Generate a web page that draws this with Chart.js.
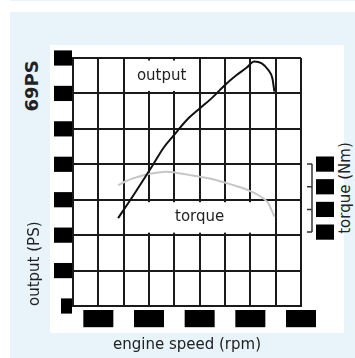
<!DOCTYPE html>
<html>
<head>
<meta charset="utf-8">
<script src="https://cdn.jsdelivr.net/npm/chart.js@4.4.1/dist/chart.umd.min.js"></script>
<style>
  body { margin: 0; background: #fff; width: 355px; height: 358px; overflow: hidden; position: relative; font-family: "DejaVu Sans", sans-serif; color: #222; }
  .band { position: absolute; left: 10px; right: 0; background: #e8f3fa; }
  #panel { position: absolute; left: 50px; top: 45px; width: 294px; height: 288px; background: #fff; }
  #c { position: absolute; left: 0; top: 0; }
  .vlabel { position: absolute; white-space: nowrap; line-height: 1; transform: translate(-50%, -50%) rotate(-90deg); }
</style>
</head>
<body>
<div class="band" style="top:0;height:1px"></div>
<div class="band" style="top:12px;bottom:0"></div>
<div id="panel"></div>
<div class="vlabel" style="left:32px;top:86px;font-weight:bold;font-size:18px">69PS</div>
<div class="vlabel" style="left:345px;top:188px;font-size:15px">torque (Nm)</div>
<canvas id="c" width="355" height="358"></canvas>
<script>
// engine speed grid / labels (rpm)
const rpmGrid = [0, 1000, 2000, 3000, 4000, 5000, 6000, 7000, 8000, 9000];
const rpmLabels = [1000, 3000, 5000, 7000, 9000];
const torqueTicks = [40, 50, 60, 70];

// output curve (PS)
const rpmOutput = [1780, 2380, 3170, 3570, 3960, 4490, 5010, 5540, 6000, 6460, 6860, 7150, 7450, 7710, 7870, 7950];
const outputPS = [24.8, 31.2, 40.0, 44.6, 48.0, 52.5, 55.8, 59.1, 62.4, 65.2, 67.3, 69.0, 68.5, 66.6, 64.3, 60.5];

// torque curve (Nm)
const rpmTorque = [1780, 2040, 2370, 2780, 3300, 3700, 4230, 5010, 5670, 6330, 6990, 7510, 7710, 7840, 7950];
const torqueNm = [60.7, 62.2, 63.7, 65.1, 66.2, 66.6, 65.9, 64.4, 62.9, 60.7, 58.1, 54.9, 52.7, 49.7, 46.8];

const gridColor = "#1a1a1a";
const tickFont = { family: "DejaVu Sans", size: 11 };
const titleFont = { family: "DejaVu Sans", size: 15 };

// white boxes with the curve names, given in data units
const curveLabels = [
  { text: "output", x0: 2000, x1: 5000, y0: 60, y1: 70 },
  { text: "torque", x0: 2000, x1: 8000, y0: 20, y1: 30 },
];

const labelBoxes = {
  id: "labelBoxes",
  beforeDatasetsDraw(chart) {
    const { ctx, scales: { x, y } } = chart;
    ctx.save();
    curveLabels.forEach((l) => {
      const left = x.getPixelForValue(l.x0) + 1.5;
      const right = x.getPixelForValue(l.x1) - 1.5;
      const top = y.getPixelForValue(l.y1) + 2.5;
      const bottom = y.getPixelForValue(l.y0) - 2.5;
      ctx.fillStyle = "#fff";
      ctx.fillRect(left, top, right - left, bottom - top);
      ctx.fillStyle = "#222";
      ctx.font = "15px 'DejaVu Sans'";
      ctx.textAlign = "center";
      ctx.textBaseline = "middle";
      ctx.fillText(l.text, (left + right) / 2, (top + bottom) / 2);
    });
    ctx.restore();
  },
};

// bracket joining the torque ticks
const torqueBracket = {
  id: "torqueBracket",
  afterDraw(chart) {
    const { ctx, chartArea } = chart;
    const s = chart.scales.y1;
    const bx = chartArea.right + 11;
    const ys = torqueTicks.map((v) => s.getPixelForValue(v));
    ctx.save();
    ctx.strokeStyle = "#333";
    ctx.lineWidth = 1.5;
    ctx.beginPath();
    ctx.moveTo(bx, Math.min(...ys));
    ctx.lineTo(bx, Math.max(...ys));
    ys.forEach((py) => {
      ctx.moveTo(bx - 5, py);
      ctx.lineTo(bx, py);
    });
    ctx.stroke();
    ctx.restore();
  },
};

new Chart(document.getElementById("c"), {
  type: "line",
  data: {
    datasets: [
      {
        label: "output",
        data: rpmOutput.map((r, i) => ({ x: r, y: outputPS[i] })),
        borderColor: "#111",
        borderWidth: 2,
        pointRadius: 0,
        cubicInterpolationMode: "monotone",
        yAxisID: "y",
      },
      {
        label: "torque",
        data: rpmTorque.map((r, i) => ({ x: r, y: torqueNm[i] })),
        borderColor: "#c6c6c6",
        borderWidth: 2,
        pointRadius: 0,
        cubicInterpolationMode: "monotone",
        yAxisID: "y1",
      },
    ],
  },
  options: {
    responsive: false,
    animation: false,
    layout: { padding: { top: 58, right: 0, bottom: 0, left: 0 } },
    plugins: { legend: { display: false }, tooltip: { enabled: false } },
    scales: {
      x: {
        type: "linear",
        min: 0,
        max: 9000,
        afterBuildTicks: (s) => { s.ticks = rpmGrid.map((v) => ({ value: v })); },
        afterFit: (s) => { s.height = 52; },
        grid: { color: gridColor, lineWidth: 2, drawTicks: false },
        border: { color: gridColor, width: 2 },
        ticks: {
          autoSkip: false,
          maxRotation: 0,
          padding: 6,
          color: "#000",
          font: tickFont,
          callback: (v) => (rpmLabels.includes(v) ? String(v) : ""),
          showLabelBackdrop: (c) => rpmLabels.includes(c.tick.value),
          backdropColor: "#000",
          backdropPadding: { top: 2, bottom: 2, left: 1, right: 1 },
        },
        title: { display: true, text: "engine speed (rpm)", color: "#222", font: titleFont, padding: { top: 0, bottom: 4 } },
      },
      y: {
        min: 0,
        max: 70,
        afterFit: (s) => { s.width = 73; },
        grid: { color: gridColor, lineWidth: 2, drawTicks: false },
        border: { color: gridColor, width: 2 },
        ticks: {
          stepSize: 10,
          padding: 3,
          color: "#000",
          font: tickFont,
          showLabelBackdrop: true,
          backdropColor: "#000",
          backdropPadding: { top: 1, bottom: 1, left: 2, right: 2 },
        },
        title: { display: true, text: "output (PS)", align: "start", color: "#222", font: titleFont, padding: { top: 26, bottom: 0 } },
      },
      y1: {
        position: "right",
        min: 7.4,
        max: 116.8,
        afterBuildTicks: (s) => { s.ticks = torqueTicks.map((v) => ({ value: v })); },
        afterFit: (s) => { s.width = 54; },
        grid: { display: false, drawTicks: false },
        border: { display: false },
        ticks: {
          padding: 17,
          color: "#000",
          font: tickFont,
          showLabelBackdrop: true,
          backdropColor: "#000",
          backdropPadding: { top: 1, bottom: 1, left: 2, right: 2 },
        },
      },
    },
  },
  plugins: [labelBoxes, torqueBracket],
});
</script>
</body>
</html>
